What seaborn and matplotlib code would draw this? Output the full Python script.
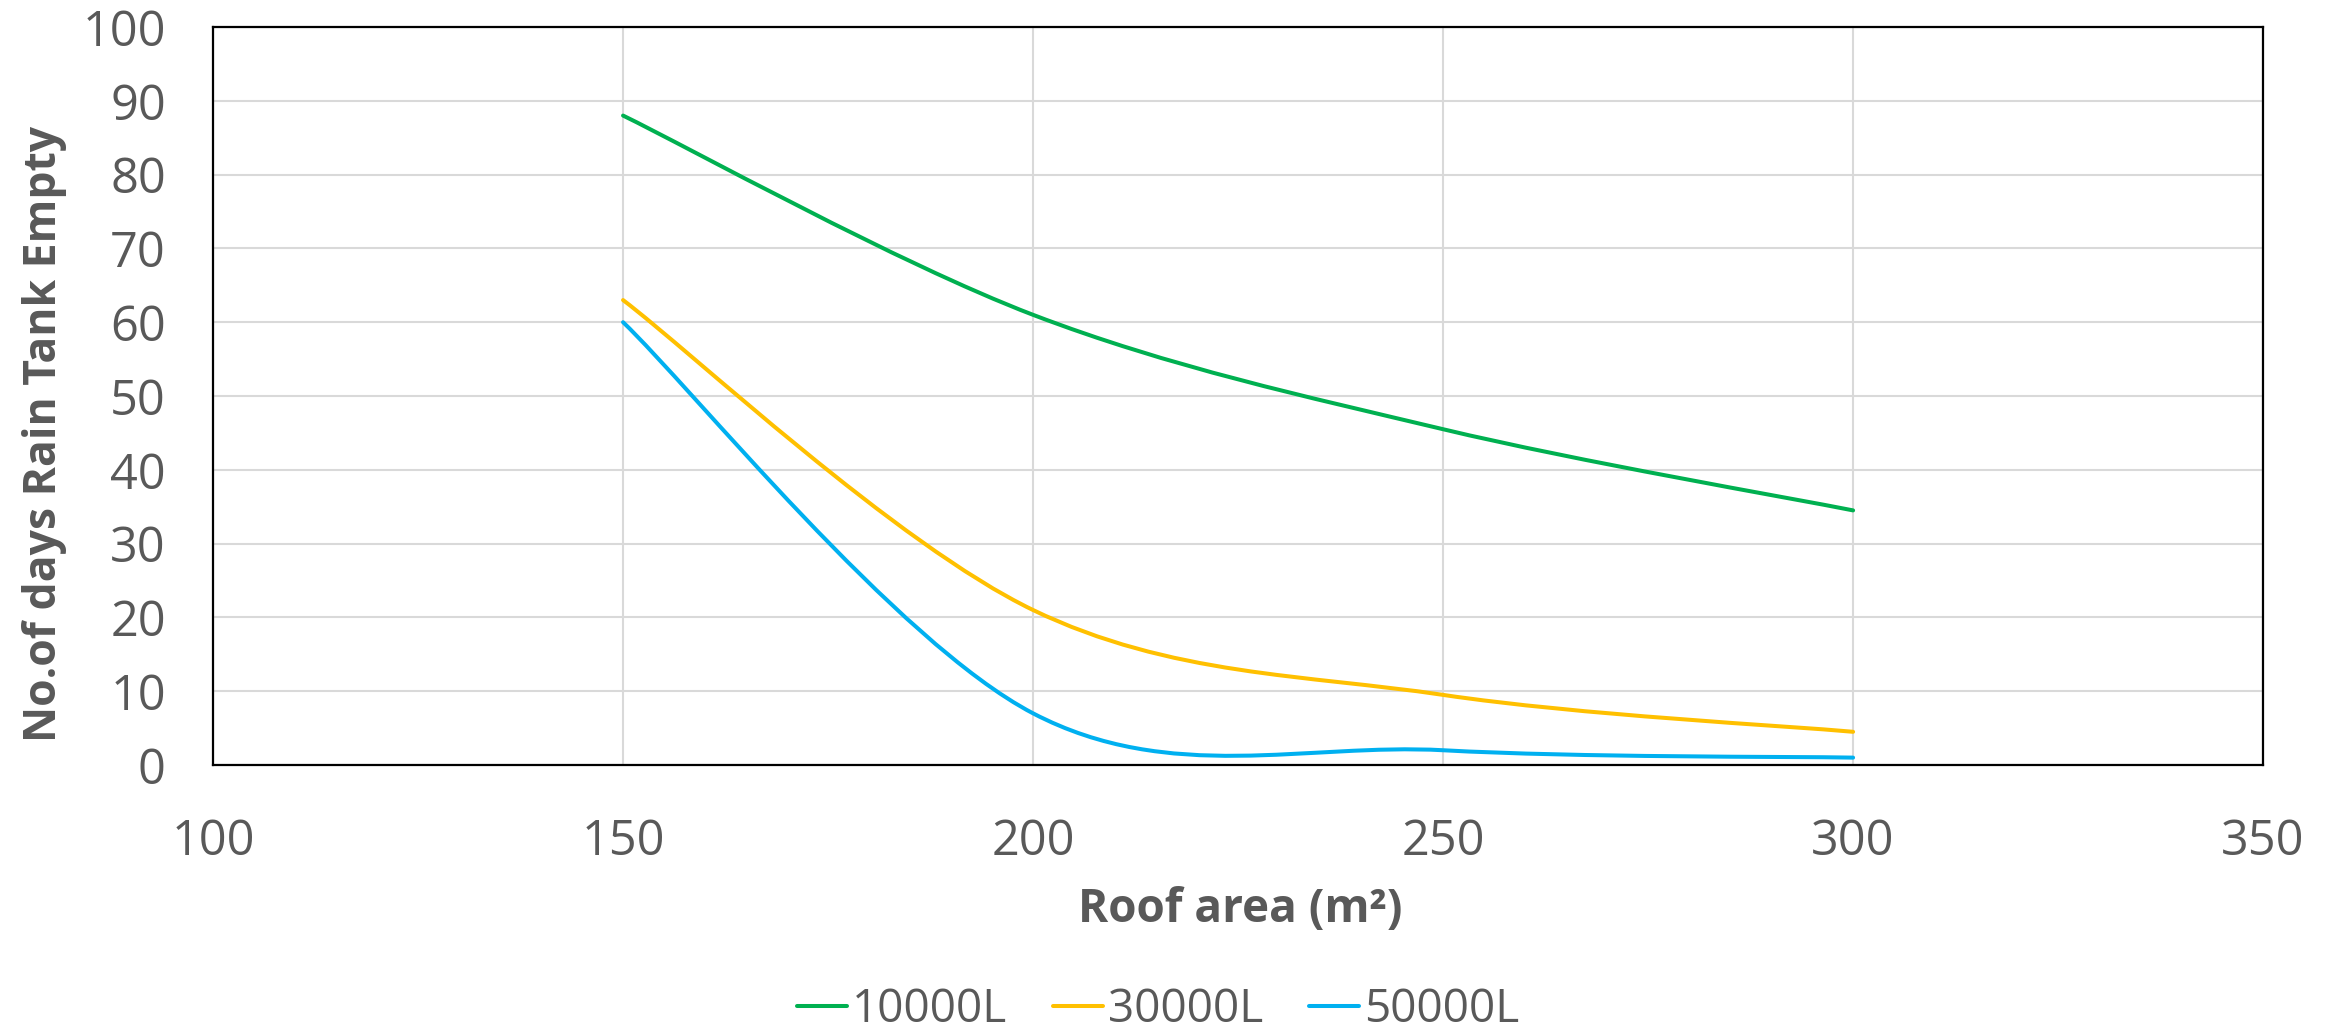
import numpy as np
import pandas as pd
import matplotlib
matplotlib.use("Agg")
import matplotlib.pyplot as plt
from matplotlib.path import Path
from matplotlib.patches import PathPatch
from matplotlib.lines import Line2D
import seaborn as sns

# Roof area (m²) and number of days the rain tank is empty, per tank size
roof_area = [150, 200, 250, 300]
days_10000L = [88, 61, 45.5, 34.5]
days_30000L = [63, 21, 9.5, 4.5]
days_50000L = [60, 7, 2, 1]
series_names = ["10000L", "30000L", "50000L"]
series_colors = ["#00B050", "#FFC000", "#00B0F0"]

x_ticks = [100, 150, 200, 250, 300, 350]
y_ticks = [0, 10, 20, 30, 40, 50, 60, 70, 80, 90, 100]

df = pd.DataFrame({
    "Roof area": roof_area * 3,
    "Days": days_10000L + days_30000L + days_50000L,
    "Tank": [n for n in series_names for _ in roof_area],
})

sns.set_theme(style="whitegrid")
plt.rcParams["font.family"] = ["Open Sans", "DejaVu Sans"]
text_color = "#595959"

fig = plt.figure(figsize=(23.36, 10.31), dpi=100)
ax = fig.add_axes([0.0912, 0.258, 0.8776, 0.7158])


def smooth_path(xs, ys):
    """Cubic Bezier path through the points (spreadsheet-style smoothed line)."""
    pts = np.column_stack([xs, ys]).astype(float)
    n = len(pts)
    verts = [pts[0]]
    codes = [Path.MOVETO]
    for i in range(n - 1):
        p0 = pts[i - 1] if i > 0 else pts[i]
        p1 = pts[i]
        p2 = pts[i + 1]
        p3 = pts[i + 2] if i + 2 < n else pts[i + 1]
        c1 = p1 + (p2 - p0) / 6.0
        c2 = p2 - (p3 - p1) / 6.0
        verts += [c1, c2, p2]
        codes += [Path.CURVE4] * 3
    return Path(verts, codes)


handles = []
for name, color in zip(series_names, series_colors):
    sub = df[df["Tank"] == name]
    patch = PathPatch(smooth_path(sub["Roof area"], sub["Days"]),
                      facecolor="none", edgecolor=color, lw=2.9,
                      capstyle="round", joinstyle="round", zorder=3)
    ax.add_patch(patch)
    handles.append(Line2D([], [], color=color, lw=2.9, solid_capstyle="round", label=name))

ax.set_xlim(100, 350)
ax.set_ylim(0, 100)
ax.set_xticks(x_ticks)
ax.set_yticks(y_ticks)
ax.set_facecolor("white")
ax.grid(True, color="#D9D9D9", lw=1.5)
for s in ax.spines.values():
    s.set_visible(True)
    s.set_color("black")
    s.set_linewidth(1.6)
ax.tick_params(axis="both", length=0, labelsize=35, labelcolor=text_color)
ax.tick_params(axis="x", pad=38)
ax.tick_params(axis="y", pad=34)
ax.set_xlabel("")
ax.set_ylabel("")

fig.text(1240 / 2336, 1 - 909 / 1031, "Roof area (m²)", ha="center", va="center",
         fontsize=33, fontweight="bold", color=text_color)
fig.text(45 / 2336, 1 - 434 / 1031, "No.of days Rain Tank Empty", ha="center", va="center",
         rotation=90, fontsize=32, fontweight="bold", color=text_color)

fig.legend(handles=handles, loc="center", bbox_to_anchor=(1158 / 2336, 1 - 1010 / 1031),
           ncol=3, frameon=False, fontsize=33, labelcolor=text_color,
           handlelength=1.1, handletextpad=0.1, columnspacing=1.0)

fig.savefig("out.png", dpi=100, facecolor="white")
